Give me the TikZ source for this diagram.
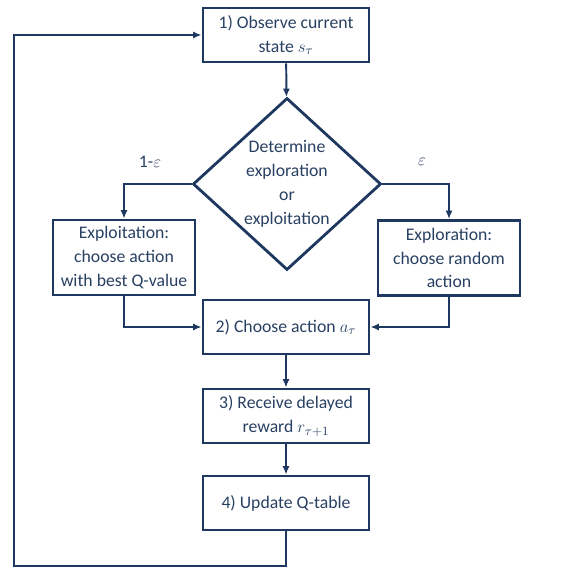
\documentclass[tikz,border=0pt]{standalone}
\usepackage{fontspec}
\setmainfont{Carlito}
\usetikzlibrary{shapes.geometric,arrows.meta,positioning}
\definecolor{lineblue}{RGB}{31,56,96}
\definecolor{textblue}{RGB}{40,64,98}

\begin{document}
\begin{tikzpicture}[x=0.025cm, y=-0.025cm, every node/.style={font=\fontsize{12.6}{17}\selectfont, text=textblue}]
    \tikzset{stepbox/.style={draw=lineblue, line width=2pt, rectangle, align=center, minimum width=4.15cm, minimum height=1.35cm, inner sep=2pt},
             sidebox/.style={stepbox, minimum width=3.55cm, minimum height=1.875cm},
             decision/.style={draw=lineblue, line width=2pt, diamond, align=center, aspect=1.09, minimum width=4.7cm, minimum height=4.3cm, inner sep=0pt},
             flow/.style={draw=lineblue, line width=1.4pt, -{Latex[length=6pt,width=5pt]}}}
    \useasboundingbox (0,0) rectangle (585,569);

    \node[stepbox] (observe) at (286,35) {1) Observe current\\ state $s_\tau$};
    \node[decision] (decide) at (287,184) {Determine\\ exploration\\ or\\ exploitation};
    \node[sidebox] (exploit) at (124,257.5) {Exploitation:\\ choose action\\ with best Q-value};
    \node[sidebox] (explore) at (449,258) {Exploration:\\ choose random\\ action};
    \node[stepbox] (choose) at (286,327) {2) Choose action $a_\tau$};
    \node[stepbox] (reward) at (286,416) {3) Receive delayed\\ reward $r_{\tau+1}$};
    \node[stepbox] (update) at (286,503) {4) Update Q-table};

    \node (pexploit) at (150,162) {1-$\varepsilon$};
    \node (pexplore) at (422,162) {$\varepsilon$};

    \coordinate (loopcorner) at (14,566);

    \draw[flow] (observe) -- (decide);
    \draw[flow] (decide.west) -| (exploit.north);
    \draw[flow] (decide.east) -| (explore.north);
    \draw[flow] (exploit.south) |- (choose.west);
    \draw[flow] (explore.south) |- (choose.east);
    \draw[flow] (choose) -- (reward);
    \draw[flow] (reward) -- (update);
    \draw[flow] (update.south) |- (loopcorner) |- (observe.west);
\end{tikzpicture}
\end{document}
